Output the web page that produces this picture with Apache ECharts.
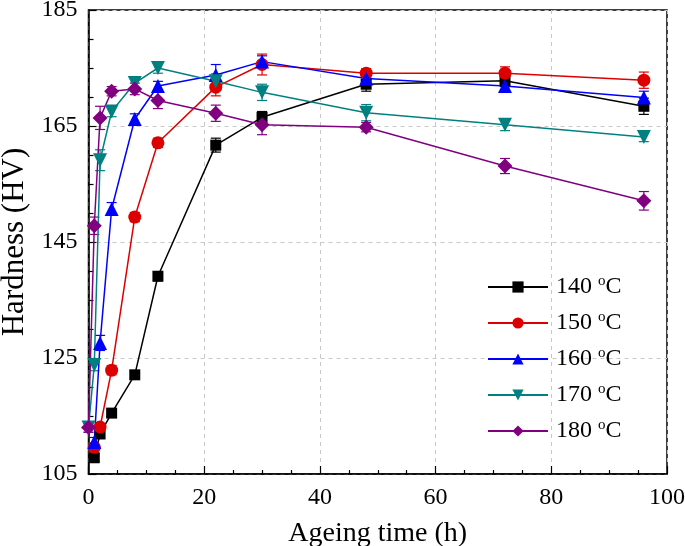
<!DOCTYPE html>
<html>
<head>
<meta charset="utf-8">
<script src="https://cdn.jsdelivr.net/npm/echarts@6/dist/echarts.min.js"></script>
<style>html,body{margin:0;padding:0;background:#fff;}#c{width:685px;height:546px;}</style>
</head>
<body>
<div id="c"></div>
<script>
// ---- data ----
var times = [0, 1, 2, 4, 8, 12, 22, 30, 48, 72, 96];
var seriesNames = ['140 °C', '150 °C', '160 °C', '170 °C', '180 °C'];
var h140 = [null, 107.8, 111.9, 115.5, 122.1, 139.1, 161.7, 166.5, 172.2, 172.8, 168.4];
var h150 = [null, 109.6, 113.1, 122.9, 149.3, 162.1, 171.7, 175.6, 174.1, 174.1, 172.9];
var h160 = [null, 110.5, 127.6, 150.7, 166.2, 171.9, 173.8, 176.1, 173.2, 171.9, 169.9];
var h170 = [113.0, 123.8, 159.1, 167.5, 172.4, 175.0, 172.7, 170.8, 167.3, 165.2, 163.1];
var h180 = [113.0, 147.8, 166.4, 171.0, 171.4, 169.4, 167.2, 165.2, 164.8, 158.1, 152.1];
var e140 = [0, 0.6, 0.6, 0.6, 0.7, 0.8, 1.2, 1.0, 1.2, 1.0, 1.4];
var e150 = [0, 0.6, 0.6, 0.8, 0.8, 0.8, 1.5, 1.8, 0.8, 1.1, 1.4];
var e160 = [0, 0.8, 1.3, 1.1, 0.9, 0.8, 1.8, 1.0, 1.0, 0.8, 1.1];
var e170 = [0.8, 1.0, 1.8, 0.9, 0.8, 0.9, 1.3, 1.4, 1.4, 1.0, 0.8];
var e180 = [0.8, 1.5, 2.0, 0.8, 1.0, 1.4, 1.4, 1.7, 0.8, 1.3, 1.6];
var xTicks = [0, 20, 40, 60, 80, 100];
var yTicks = [105, 125, 145, 165, 185];

// ---- styles ----
var colors = ['#000000', '#dd0000', '#0000ff', '#008080', '#800080'];
var symbols = ['rect', 'circle', 'triangle', 'triangle', 'diamond'];
var rotates = [0, 0, 0, 180, 0];
var sizes = [11, 13, 14, 14, 15];
var values = [h140, h150, h160, h170, h180];
var errors = [e140, e150, e160, e170, e180];
var FONT = '"Liberation Serif", "Times New Roman", serif';

var series = [];
values.forEach(function (vals, k) {
  var pts = [], ebs = [];
  vals.forEach(function (v, i) {
    if (v === null) return;
    pts.push([times[i], v]);
    ebs.push([times[i], v, errors[k][i]]);
  });
  series.push({
    type: 'custom',
    name: seriesNames[k] + ' err',
    data: ebs,
    encode: { x: 0, y: 1 },
    z: 1,
    silent: true,
    renderItem: function (params, api) {
      var t = api.value(0), v = api.value(1), e = api.value(2);
      var top = api.coord([t, v + e]);
      var bot = api.coord([t, v - e]);
      var w = 5;
      var st = { stroke: colors[k], lineWidth: 1.2 };
      return {
        type: 'group',
        children: [
          { type: 'line', shape: { x1: top[0], y1: top[1], x2: bot[0], y2: bot[1] }, style: st },
          { type: 'line', shape: { x1: top[0] - w, y1: top[1], x2: top[0] + w, y2: top[1] }, style: st },
          { type: 'line', shape: { x1: bot[0] - w, y1: bot[1], x2: bot[0] + w, y2: bot[1] }, style: st }
        ]
      };
    }
  });
  series.push({
    type: 'line',
    name: seriesNames[k],
    data: pts,
    z: 3,
    symbol: symbols[k],
    symbolRotate: rotates[k],
    symbolSize: sizes[k],
    showAllSymbol: true,
    lineStyle: { color: colors[k], width: 1.5 },
    itemStyle: { color: colors[k], borderWidth: 0 },
    emphasis: { disabled: true },
    animation: false
  });
});

var chart = echarts.init(document.getElementById('c'), null, { renderer: 'canvas' });
chart.setOption({
  animation: false,
  backgroundColor: '#ffffff',
  grid: { left: 88.5, right: 18, top: 10, bottom: 72, outerBoundsMode: 'none', containLabel: false, show: true, borderColor: '#000', borderWidth: 1.5, backgroundColor: 'transparent' },
  legend: {
    data: seriesNames,
    orient: 'vertical',
    left: 482,
    top: 269,
    itemWidth: 60,
    itemHeight: 14,
    itemGap: 10,
    symbolRotate: 'inherit',
    formatter: function (name) { return name.split(' ')[0] + ' {s|o}C'; },
    textStyle: {
      fontFamily: FONT, fontSize: 24, color: '#000', lineHeight: 26, padding: [0, 0, 0, 3],
      rich: { s: { fontFamily: FONT, fontSize: 15, lineHeight: 14, verticalAlign: 'top', color: '#000' } }
    }
  },
  xAxis: {
    type: 'value', min: xTicks[0], max: xTicks[xTicks.length - 1], interval: 20,
    name: 'Ageing time (h)', nameLocation: 'middle', nameGap: 46,
    nameTextStyle: { fontFamily: FONT, fontSize: 28, color: '#000' },
    axisLine: { show: true, onZero: false, lineStyle: { color: '#000', width: 1.5 } },
    axisTick: { show: true, inside: true, length: 8, lineStyle: { color: '#000', width: 1.2 } },
    minorTick: { show: true, splitNumber: 4, length: 4, lineStyle: { color: '#000', width: 1.2 } },
    axisLabel: { fontFamily: FONT, fontSize: 24, color: '#000', margin: 12 },
    splitLine: { show: true, lineStyle: { color: '#c8c8c8', type: [4, 4], width: 1 } }
  },
  yAxis: {
    type: 'value', min: yTicks[0], max: yTicks[yTicks.length - 1], interval: 20,
    name: 'Hardness (HV)', nameLocation: 'middle', nameGap: 57,
    nameTextStyle: { fontFamily: FONT, fontSize: 31, color: '#000' },
    axisLine: { show: true, onZero: false, lineStyle: { color: '#000', width: 1.5 } },
    axisTick: { show: true, inside: true, length: 8, lineStyle: { color: '#000', width: 1.2 } },
    minorTick: { show: true, splitNumber: 4, length: 5, lineStyle: { color: '#000', width: 1.2 } },
    axisLabel: { fontFamily: FONT, fontSize: 24, color: '#000', margin: 11 },
    splitLine: { show: true, lineStyle: { color: '#c8c8c8', type: [4, 4], width: 1 } }
  },
  series: series
});
</script>
</body>
</html>
